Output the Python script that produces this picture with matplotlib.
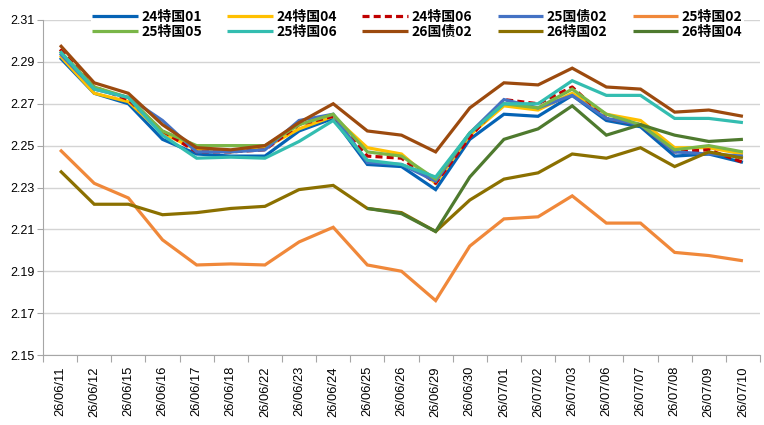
import numpy as np
import matplotlib
matplotlib.use("Agg")
import matplotlib.pyplot as plt
from matplotlib.ticker import FixedLocator, NullFormatter

plt.rcParams["font.family"] = ["Liberation Sans", "Noto Sans CJK SC", "DejaVu Sans"]

dates = ["26/06/11", "26/06/12", "26/06/15", "26/06/16", "26/06/17", "26/06/18",
         "26/06/22", "26/06/23", "26/06/24", "26/06/25", "26/06/26", "26/06/29",
         "26/06/30", "26/07/01", "26/07/02", "26/07/03", "26/07/06", "26/07/07",
         "26/07/08", "26/07/09", "26/07/10"]

names = ["24特国01", "24特国04", "24特国06", "25国债02", "25特国02",
         "25特国05", "25特国06", "26国债02", "26特国02", "26特国04"]

s_24t01 = [2.292, 2.275, 2.270, 2.253, 2.246, 2.245, 2.245, 2.257, 2.263, 2.241, 2.240,
           2.229, 2.253, 2.265, 2.264, 2.274, 2.262, 2.259, 2.245, 2.246, 2.242]
s_24t04 = [2.293, 2.275, 2.271, 2.256, 2.248, 2.247, 2.249, 2.258, 2.264, 2.249, 2.246,
           2.232, 2.255, 2.269, 2.267, 2.275, 2.265, 2.262, 2.249, 2.249, 2.246]
s_24t06 = [2.296, 2.278, 2.272, 2.257, 2.247, 2.247, 2.248, 2.260, 2.264, 2.245, 2.244,
           2.232, 2.254, 2.272, 2.270, 2.278, 2.263, 2.260, 2.247, 2.248, 2.242]
s_25g02 = [2.294, 2.277, 2.273, 2.262, 2.247, 2.247, 2.248, 2.262, 2.265, 2.242, 2.241,
           2.233, 2.256, 2.272, 2.268, 2.274, 2.263, 2.260, 2.247, 2.246, 2.245]
s_25t02 = [2.248, 2.232, 2.225, 2.205, 2.193, 2.1935, 2.193, 2.204, 2.211, 2.193, 2.190,
           2.176, 2.202, 2.215, 2.216, 2.226, 2.213, 2.213, 2.199, 2.1975, 2.195]
s_25t05 = [2.295, 2.278, 2.273, 2.257, 2.250, 2.250, 2.250, 2.260, 2.265, 2.247, 2.245,
           2.234, 2.256, 2.270, 2.268, 2.277, 2.265, 2.260, 2.248, 2.250, 2.247]
s_25t06 = [2.295, 2.277, 2.273, 2.255, 2.244, 2.2445, 2.244, 2.252, 2.262, 2.243, 2.241,
           2.235, 2.256, 2.270, 2.270, 2.281, 2.274, 2.274, 2.263, 2.263, 2.261]
s_26g02 = [2.298, 2.280, 2.275, 2.260, 2.249, 2.248, 2.250, 2.261, 2.270, 2.257, 2.255,
           2.247, 2.268, 2.280, 2.279, 2.287, 2.278, 2.277, 2.266, 2.267, 2.264]
s_26t02 = [2.238, 2.222, 2.222, 2.217, 2.218, 2.220, 2.221, 2.229, 2.231, 2.220, 2.218,
           2.209, 2.224, 2.234, 2.237, 2.246, 2.244, 2.249, 2.240, 2.247, 2.244]
s_26t04 = [np.nan] * 9 + [2.220, 2.2175, 2.209, 2.235, 2.253, 2.258, 2.269, 2.255,
                          2.260, 2.255, 2.252, 2.253]

series = [s_24t01, s_24t04, s_24t06, s_25g02, s_25t02,
          s_25t05, s_25t06, s_26g02, s_26t02, s_26t04]
colors = ["#0563B5", "#FFC000", "#C00000", "#4472C4", "#F0883A",
          "#7AB648", "#33BDB0", "#9C4A0E", "#8B7000", "#4E7A2E"]

yticks = [2.15, 2.17, 2.19, 2.21, 2.23, 2.25, 2.27, 2.29, 2.31]

fig = plt.figure(figsize=(7.64, 4.25), dpi=100)
ax = fig.add_axes([43 / 764, 1 - 355 / 425, 717 / 764, 335 / 425])

x = np.arange(len(dates))
handles = []
for name, vals, c in zip(names, series, colors):
    ls = (0, (2.2, 1.3)) if name == "24特国06" else "-"
    h, = ax.plot(x, vals, color=c, lw=2.3, ls=ls, label=name,
                 solid_capstyle="butt", solid_joinstyle="miter")
    handles.append(h)

ax.set_xlim(-0.5, len(dates) - 0.5)
ax.set_ylim(2.15, 2.31)
ax.set_yticks(yticks)
ax.set_yticklabels([f"{v:.2f}" for v in yticks], fontsize=9)
ax.grid(axis="y", color="#D4D4D4", lw=1)
ax.set_axisbelow(True)

# ticks sit between categories, labels at category centres
ax.xaxis.set_major_locator(FixedLocator(np.arange(-0.5, len(dates), 1.0)))
ax.xaxis.set_major_formatter(NullFormatter())
ax.xaxis.set_minor_locator(FixedLocator(x))
ax.set_xticklabels(dates, minor=True, rotation=90, fontsize=9.3)
ax.tick_params(axis="x", which="major", length=5, color="#A6A6A6")
ax.tick_params(axis="x", which="minor", length=0, pad=8)
ax.tick_params(axis="y", length=4, color="#A6A6A6", pad=2)

for side in ["top", "right"]:
    ax.spines[side].set_visible(False)
for side in ["left", "bottom"]:
    ax.spines[side].set_color("#A6A6A6")

# legend: row-wise order in 5 columns
order = [0, 5, 1, 6, 2, 7, 3, 8, 4, 9]
leg = fig.legend([handles[i] for i in order], [names[i] for i in order],
                 ncol=5, loc="upper center", bbox_to_anchor=(0.5465, 0.997),
                 frameon=True, edgecolor="none", framealpha=1,
                 prop={"family": ["Noto Sans CJK SC"], "weight": "bold", "size": 10},
                 handlelength=3.3, columnspacing=1.8, handletextpad=0.25,
                 labelspacing=0.12, borderpad=0.1)

fig.savefig("out.png", dpi=100)
